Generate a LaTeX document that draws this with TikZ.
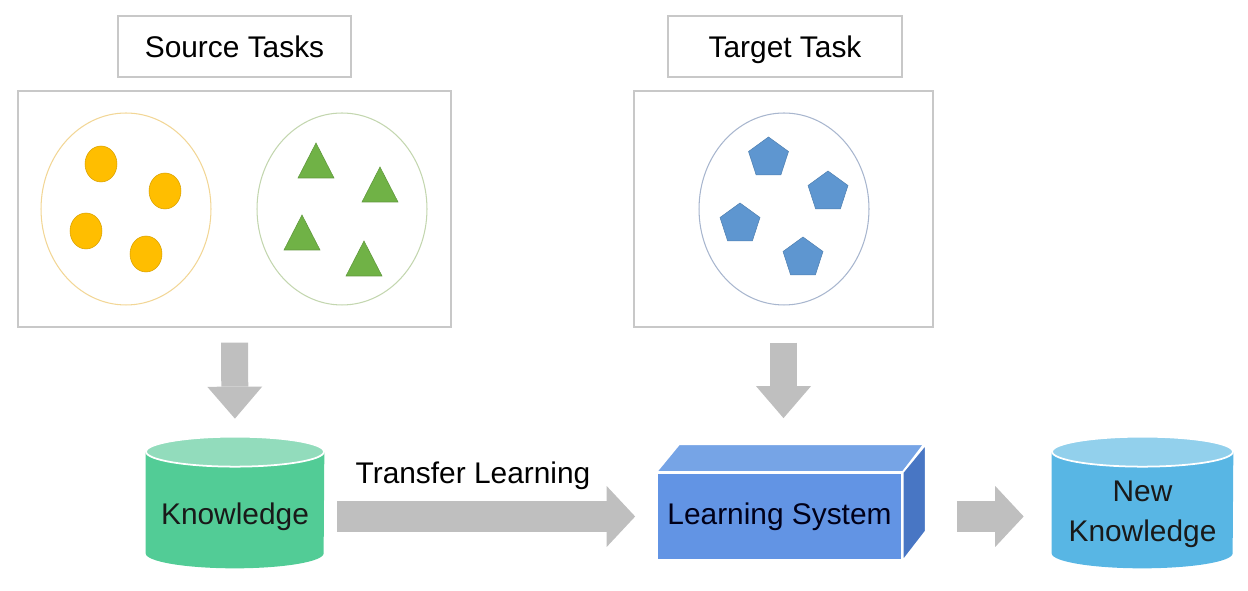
\documentclass[tikz,border=0pt]{standalone}
\usepackage{fontspec}
\setmainfont{Liberation Sans}
\usetikzlibrary{positioning, arrows.meta, shapes.geometric}
\usepackage{xcolor}

\definecolor{boxgray}{RGB}{200,200,200}
\definecolor{arrowgray}{RGB}{191,191,191}
\definecolor{dotorange}{RGB}{255,190,0}
\definecolor{ringorange}{RGB}{242,214,150}
\definecolor{trigreen}{RGB}{112,178,70}
\definecolor{ringgreen}{RGB}{195,214,175}
\definecolor{pentblue}{RGB}{94,150,208}
\definecolor{ringblue}{RGB}{168,182,206}
\definecolor{knowbody}{RGB}{82,204,150}
\definecolor{knowtop}{RGB}{146,220,188}
\definecolor{newbody}{RGB}{88,182,228}
\definecolor{newtop}{RGB}{146,208,236}
\definecolor{sysfront}{RGB}{98,148,228}
\definecolor{systop}{RGB}{118,164,230}
\definecolor{sysside}{RGB}{72,118,196}

\newcommand{\lblfont}{\fontsize{17}{22.7}\selectfont}

\begin{document}
\begin{tikzpicture}[x=0.02cm, y=0.02cm,
    titlebox/.style={draw=boxgray, line width=0.8pt, minimum width=4.66cm, minimum height=1.22cm, text depth=0pt, font=\lblfont},
    taskbox/.style={draw=boxgray, line width=0.8pt, minimum height=4.72cm},
    store/.style={minimum width=3.56cm, minimum height=2.62cm, inner sep=0pt},
    bigarrow/.style={draw=arrowgray, line width=0.62cm, -{Triangle[length=0.57cm, width=1.22cm, line width=0pt]}},
    downarrow/.style={draw=arrowgray, line width=0.54cm, -{Triangle[length=0.64cm, width=1.1cm, line width=0pt]}},
    dot/.style={fill=dotorange, draw=dotorange!85!black, line width=0.3pt},
    tri/.style={fill=trigreen, draw=trigreen!85!black, line width=0.3pt},
    pent/.style={regular polygon, regular polygon sides=5, minimum size=0.84cm, inner sep=0pt, fill=pentblue, draw=pentblue!85!black, line width=0.3pt}]

    \useasboundingbox (0,0) rectangle (1248,591);

    % source side
    \node[titlebox] (srctitle) at (234.5,544.5) {Source Tasks};
    \node[taskbox, minimum width=8.66cm] (srcbox) at (234.5,382) {};
    \draw[ringorange, line width=0.6pt] (126,382) ellipse [x radius=1.7cm, y radius=1.92cm]; % ring of circles
    \draw[ringgreen, line width=0.6pt] (342,382) ellipse [x radius=1.7cm, y radius=1.92cm]; % ring of triangles
    \foreach \cx/\cy in {101/427, 165/400, 86/360, 146/337}
        \filldraw[dot] (\cx,\cy) ellipse [x radius=0.32cm, y radius=0.36cm];
    \foreach \cx/\cy in {316/413, 380/389, 302/341, 364/315}
        \filldraw[tri] (\cx-18,\cy) -- (\cx+18,\cy) -- (\cx,\cy+35) -- cycle;

    % target side
    \node[titlebox, minimum width=4.68cm] (tgttitle) at (785,544.5) {Target Task};
    \node[taskbox, minimum width=5.98cm] (tgtbox) at (783.5,382) {};
    \draw[ringblue, line width=0.6pt] (784,382) ellipse [x radius=1.7cm, y radius=1.92cm]; % ring of pentagons
    \foreach \cx/\cy [count=\i] in {768.5/433, 828/399, 740/367, 803/333}
        \node[pent] (pent\i) at (\cx,\cy) {};

    % knowledge store
    \node[store] (know) at (235,88.5) {};
    \fill[knowbody] ([yshift=-0.3cm]know.north west) -- ([yshift=0.3cm]know.south west)
        arc (180:360:1.78cm and 0.3cm) -- ([yshift=-0.3cm]know.north east) -- cycle;
    \filldraw[fill=knowtop, draw=white, line width=1pt] ([yshift=-0.3cm]know.north) ellipse [x radius=1.78cm, y radius=0.3cm];
    \node[font=\lblfont, text=black!90, anchor=base] (knowlbl) at (235,66) {Knowledge};

    % learning system
    \node[fill=sysfront, draw=white, line width=1pt, minimum width=4.9cm, minimum height=1.74cm,
        font=\lblfont, text=black!90!blue] (learn) at (779.5,74.5) {Learning System};
    \filldraw[fill=systop, draw=white, line width=1pt] (learn.north west) -- ++(23,28) -- ++(245,0) -- (learn.north east) -- cycle;
    \filldraw[fill=sysside, draw=white, line width=1pt] (learn.north east) -- ++(23,28) -- ++(0,-87) -- (learn.south east) -- cycle;

    % new knowledge store
    \node[store, minimum width=3.62cm] (newk) at (1142.5,88.5) {};
    \fill[newbody] ([yshift=-0.3cm]newk.north west) -- ([yshift=0.3cm]newk.south west)
        arc (180:360:1.81cm and 0.3cm) -- ([yshift=-0.3cm]newk.north east) -- cycle;
    \filldraw[fill=newtop, draw=white, line width=1pt] ([yshift=-0.3cm]newk.north) ellipse [x radius=1.81cm, y radius=0.3cm];
    \node[font=\lblfont, text=black!90, align=center, inner sep=0pt] (newlbl) at (1142.5,76.6) {New\\Knowledge};

    % arrows
    \draw[downarrow, shorten <=0.3cm, shorten >=0.36cm] (srcbox.south) -- (know.north);
    \draw[downarrow, shorten <=0.3cm, shorten >=1.08cm] (tgtbox.south) -- (tgtbox.south |- learn.north);
    \draw[bigarrow, shorten <=0.26cm, shorten >=0.42cm] (learn.west -| know.east) -- (learn.west);
    \draw[bigarrow, shorten <=1.08cm, shorten >=0.56cm] (learn.east) -- (learn.east -| newk.west);
    \node[font=\lblfont, anchor=base] (translbl) at (473,107) {Transfer Learning};
\end{tikzpicture}
\end{document}
